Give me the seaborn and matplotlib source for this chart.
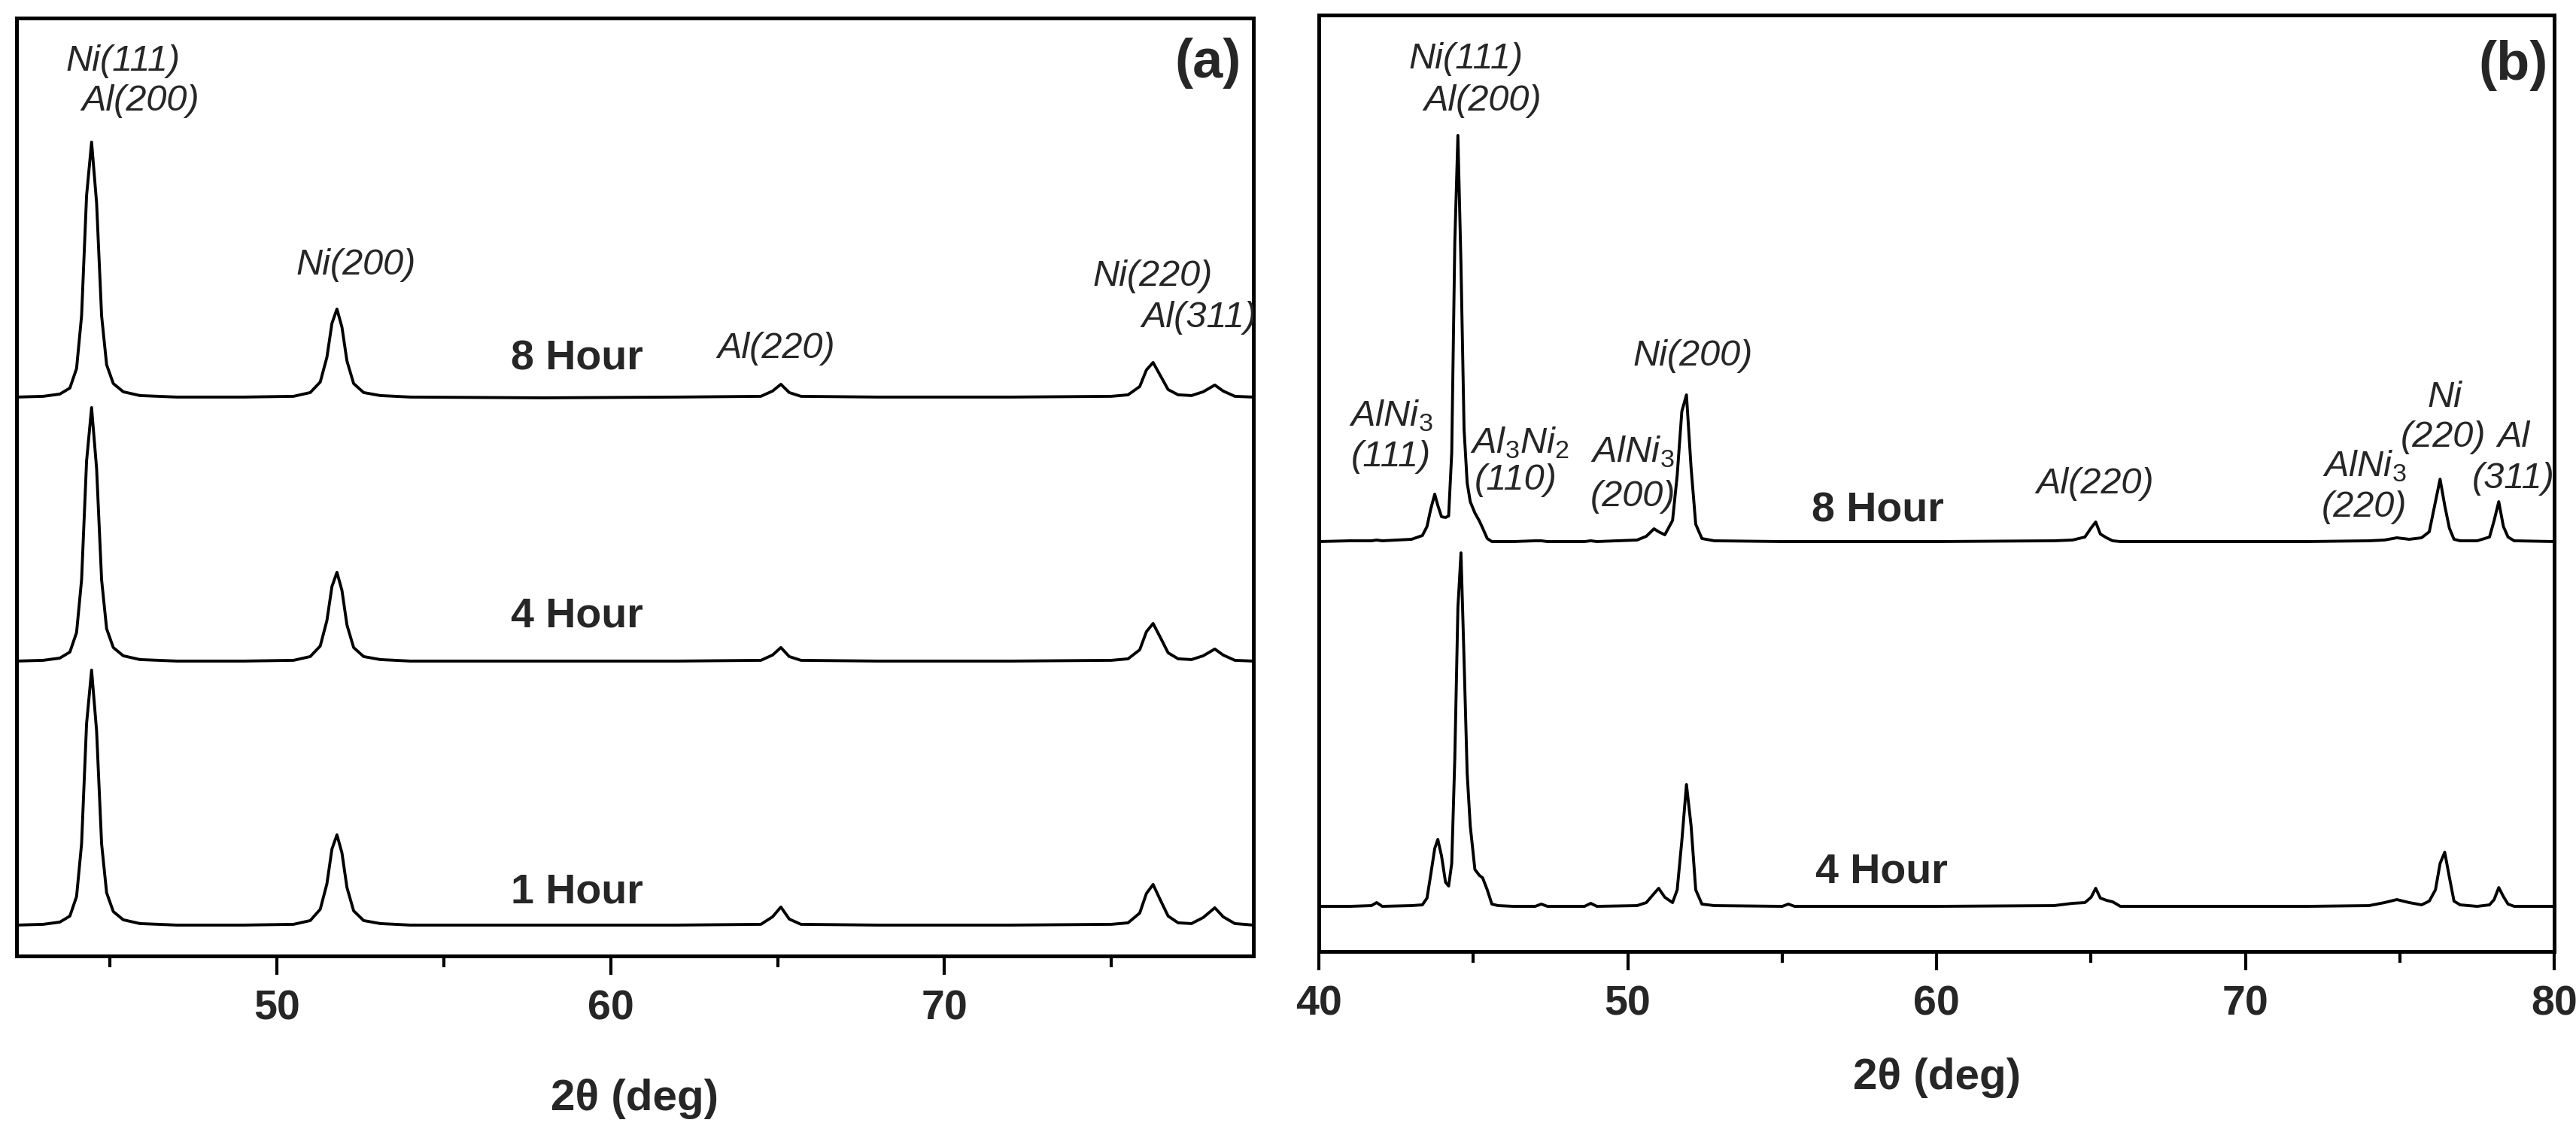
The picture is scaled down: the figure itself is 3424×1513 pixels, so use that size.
import numpy as np
import pandas as pd
import matplotlib
matplotlib.use("Agg")
import matplotlib.pyplot as plt
import seaborn as sns
from matplotlib.ticker import MultipleLocator

sns.set_style("white")
plt.rcParams["font.family"] = ["Liberation Sans", "DejaVu Sans"]
plt.rcParams["mathtext.fontset"] = "custom"
plt.rcParams["mathtext.rm"] = "Liberation Sans"
plt.rcParams["mathtext.it"] = "Liberation Sans:italic"

# ---- panel (a): 2theta grid and intensities (baseline subtracted) ----
two_theta_a = [42.2, 43.0, 43.5, 43.8, 44.0, 44.15, 44.3, 44.45, 44.6, 44.75, 44.9, 45.1, 45.4,
               45.9, 47.0, 49.0, 50.5, 51.0, 51.3, 51.5, 51.65, 51.8, 51.95, 52.1, 52.3, 52.6,
               53.1, 54.0, 58.0, 62.0, 64.5, 64.85, 65.1, 65.35, 65.7, 68.0, 72.0, 75.0, 75.5,
               75.85, 76.05, 76.25, 76.45, 76.7, 77.0, 77.4, 77.75, 78.1, 78.35, 78.7, 79.25]
int_8h_a = [2, 3, 6, 14, 40, 110, 270, 341, 260, 110, 45, 20, 9,
            4, 2, 2, 3, 8, 22, 55, 100, 119, 95, 50, 20, 8,
            4, 2, 1, 2, 3, 10, 19, 8, 3, 2, 2, 3, 5,
            16, 38, 48, 32, 12, 5, 4, 9, 18, 10, 3, 2]
int_4h_a = [2, 3, 6, 14, 40, 110, 268, 339, 258, 110, 45, 20, 9,
            4, 2, 2, 3, 8, 22, 56, 101, 120, 96, 50, 20, 8,
            4, 2, 2, 2, 3, 10, 20, 8, 3, 2, 2, 3, 5,
            17, 41, 52, 35, 13, 5, 4, 9, 18, 10, 3, 2]
int_1h_a = [2, 3, 6, 14, 40, 110, 270, 341, 260, 110, 45, 20, 9,
            4, 2, 2, 3, 8, 23, 57, 103, 122, 98, 52, 21, 8,
            4, 2, 2, 2, 3, 13, 26, 10, 3, 2, 2, 3, 5,
            18, 44, 56, 37, 14, 5, 4, 12, 25, 13, 4, 2]

# ---- panel (b) ----
two_theta_b = [40.0, 41.0, 41.7, 41.87, 42.05, 43.0, 43.35, 43.5, 43.62, 43.75, 43.85, 43.97,
               44.1, 44.2, 44.3, 44.4, 44.5, 44.6, 44.7, 44.8, 44.9, 45.05, 45.2, 45.3, 45.45,
               45.6, 45.8, 46.3, 47.0, 47.2, 47.4, 48.6, 48.8, 49.0, 50.3, 50.6, 50.85, 51.0,
               51.2, 51.45, 51.6, 51.75, 51.9, 52.05, 52.2, 52.4, 52.8, 55.0, 55.2, 55.4, 60.0,
               63.8, 64.4, 64.8, 65.0, 65.15, 65.3, 65.5, 65.7, 65.95, 68.0, 72.0, 74.0, 74.5,
               74.9, 75.3, 75.7, 75.95, 76.15, 76.3, 76.45, 76.6, 76.75, 76.95, 77.5, 77.9,
               78.05, 78.2, 78.35, 78.5, 78.7, 80.0]
int_8h_b = [2, 3, 3, 4, 3, 5, 10, 22, 45, 65, 50, 35,
            34, 36, 120, 400, 542, 370, 151, 80, 55, 40, 29, 20, 6,
            2, 2, 2, 3, 3, 2, 2, 3, 2, 4, 9, 19, 15,
            11, 30, 90, 175, 197, 100, 25, 6, 3, 2, 2, 2, 2,
            3, 4, 8, 20, 28, 12, 7, 3, 2, 2, 2, 3, 4,
            7, 5, 7, 15, 55, 85, 50, 20, 5, 3, 3, 8,
            30, 55, 22, 8, 3, 2]
int_4h_b = [3, 3, 4, 8, 3, 4, 5, 14, 45, 80, 92, 70,
            35, 30, 60, 200, 400, 473, 330, 180, 110, 52, 44, 41, 25,
            6, 4, 3, 3, 6, 3, 3, 7, 3, 4, 8, 20, 27,
            15, 8, 25, 90, 165, 110, 25, 6, 4, 3, 6, 3, 3,
            4, 7, 8, 15, 27, 14, 11, 9, 3, 3, 3, 4, 8,
            12, 8, 5, 10, 25, 60, 75, 42, 10, 5, 3, 5,
            12, 28, 16, 6, 3, 3]

# vertical stacking of the patterns
offsets_a = {"1 Hour": 39, "4 Hour": 390, "8 Hour": 741}
offsets_b = {"4 Hour": 57, "8 Hour": 543}
# where the sample names sit (data y)
name_y_a = {"1 Hour": 84, "4 Hour": 451, "8 Hour": 793}
name_y_b = {"4 Hour": 106, "8 Hour": 585}

frames = []
for name, vals in [("1 Hour", int_1h_a), ("4 Hour", int_4h_a), ("8 Hour", int_8h_a)]:
    frames.append(pd.DataFrame({"panel": "a", "sample": name, "two_theta": two_theta_a,
                                "y": np.array(vals) + offsets_a[name]}))
for name, vals in [("4 Hour", int_4h_b), ("8 Hour", int_8h_b)]:
    frames.append(pd.DataFrame({"panel": "b", "sample": name, "two_theta": two_theta_b,
                                "y": np.array(vals) + offsets_b[name]}))
df = pd.concat(frames, ignore_index=True)

fig = plt.figure(figsize=(34.24, 15.13), dpi=100)
ax_a = fig.add_axes([0.0064, 0.160, 0.4801, 0.8242])
ax_b = fig.add_axes([0.5120, 0.1639, 0.4796, 0.8229])

for ax, p in [(ax_a, "a"), (ax_b, "b")]:
    for name, sub in df[df["panel"] == p].groupby("sample"):
        sns.lineplot(data=sub, x="two_theta", y="y", ax=ax, color="black",
                     linewidth=2.8, estimator=None, sort=False, legend=False)

ax_a.set_xlim(42.2, 79.25)
ax_a.set_ylim(0, 1247)
ax_b.set_xlim(40, 80)
ax_b.set_ylim(0, 1245)

for ax in (ax_a, ax_b):
    ax.set_yticks([])
    ax.set_ylabel("")
    ax.xaxis.set_major_locator(MultipleLocator(10))
    ax.xaxis.set_minor_locator(MultipleLocator(5))
    ax.tick_params(axis="x", which="major", direction="out", length=18, width=3,
                   labelsize=40, pad=14, color="black", bottom=True)
    ax.tick_params(axis="x", which="minor", direction="out", length=11, width=3,
                   color="black", bottom=True)
    for lbl in ax.get_xticklabels():
        lbl.set_fontweight("bold")
    for s in ax.spines.values():
        s.set_visible(True)
        s.set_linewidth(3.6)
        s.set_color("black")

ax_a.set_xlabel("2θ (deg)", fontsize=42, fontweight="bold", labelpad=48)
ax_b.set_xlabel("2θ (deg)", fontsize=42, fontweight="bold", labelpad=32)

ital = dict(fontsize=35, style="italic", ha="center", va="center")
bold = dict(fontsize=40, fontweight="bold", ha="center", va="center")

# panel (a) labels
ax_a.text(45.4, 1189, "Ni(111)", **ital)
ax_a.text(45.92, 1136, "Al(200)", **ital)
ax_a.text(52.38, 918, "Ni(200)", **ital)
ax_a.text(64.97, 807, "Al(220)", **ital)
ax_a.text(76.25, 903, "Ni(220)", **ital)
ax_a.text(77.62, 848, "Al(311)", clip_on=True, **ital)
ax_a.text(77.9, 1187, "(a)", fontsize=52, fontweight="bold", ha="center", va="center")
for name, yy in name_y_a.items():
    ax_a.text(59.0, yy, name, **bold)

# panel (b) labels
ax_b.text(44.77, 1186, "Ni(111)", **ital)
ax_b.text(45.31, 1130, "Al(200)", **ital)
ax_b.text(78.68, 1178, "(b)", fontsize=52, fontweight="bold", ha="center", va="center")
ax_b.text(42.34, 712, r"AlNi$_\mathit{3}$", **ital)
ax_b.text(42.34, 657, "(111)", **ital)
ax_b.text(46.5, 676, r"Al$_\mathit{3}$Ni$_\mathit{2}$", **ital)
ax_b.text(46.38, 626, "(110)", **ital)
ax_b.text(50.16, 664, r"AlNi$_\mathit{3}$", **ital)
ax_b.text(50.16, 604, "(200)", **ital)
ax_b.text(52.11, 791, "Ni(200)", **ital)
ax_b.text(65.14, 621, "Al(220)", **ital)
ax_b.text(73.84, 645, r"AlNi$_\mathit{3}$", **ital)
ax_b.text(73.84, 590, "(220)", **ital)
ax_b.text(76.44, 736, "Ni", **ital)
ax_b.text(76.39, 683, "(220)", **ital)
ax_b.text(78.68, 683, "Al", **ital)
ax_b.text(78.68, 628, "(311)", **ital)
ax_b.text(58.1, name_y_b["8 Hour"], "8 Hour", **bold)
ax_b.text(58.22, name_y_b["4 Hour"], "4 Hour", **bold)

fig.savefig("out.png", dpi=100, facecolor="white")
